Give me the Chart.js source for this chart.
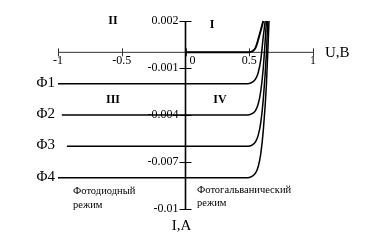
<!DOCTYPE html>
<html><head><meta charset="utf-8">
<script src="https://cdn.jsdelivr.net/npm/chart.js@4"></script>
<style>html,body{margin:0;padding:0;background:#fff}</style>
</head><body>
<canvas id="c" width="386" height="240"></canvas>
<script>
// Axis ticks
const xTicks = [-1, -0.5, 0, 0.5, 1];
const xTickLabels = ['-1', '-0.5', '0', '0.5', '1'];
const yTicks = [0.002, -0.001, -0.004, -0.007, -0.01];
const yTickLabels = ['0.002', '-0.001', '-0.004', '-0.007', '-0.01'];

// Series (U in volts, I in amperes)
const seriesNames = ['Φ0', 'Φ1', 'Φ2', 'Φ3', 'Φ4'];
const darkU = [0, 0.5, 0.53, 0.55, 0.57, 0.59, 0.61];
const darkI = [0, 0, 0.0001, 0.0003, 0.0008, 0.0014, 0.002];
const phi1U = [-1, 0.49, 0.525, 0.55, 0.57, 0.59, 0.61, 0.625];
const phi1I = [-0.002, -0.002, -0.0019, -0.0017, -0.0013, -0.0005, 0.001, 0.002];
const phi2U = [-0.97, 0.49, 0.525, 0.55, 0.57, 0.59, 0.61, 0.635];
const phi2I = [-0.004, -0.004, -0.0039, -0.0037, -0.0033, -0.0025, -0.001, 0.002];
const phi3U = [-0.93, 0.49, 0.525, 0.55, 0.57, 0.59, 0.61, 0.635, 0.645];
const phi3I = [-0.006, -0.006, -0.0059, -0.0057, -0.0053, -0.0045, -0.003, 0, 0.002];
const phi4U = [-1, 0.49, 0.525, 0.55, 0.57, 0.59, 0.61, 0.635, 0.655];
const phi4I = [-0.008, -0.008, -0.0079, -0.0077, -0.0073, -0.0065, -0.005, -0.002, 0.002];

const seriesU = [darkU, phi1U, phi2U, phi3U, phi4U];
const seriesI = [darkI, phi1I, phi2I, phi3I, phi4I];

const SERIF = '"Liberation Serif", "DejaVu Serif", serif';

const axesPlugin = {
  id: 'centerAxes',
  beforeDatasetsDraw(chart) {
    const ctx = chart.ctx, xs = chart.scales.x, ys = chart.scales.y;
    const x0 = xs.getPixelForValue(0), y0 = ys.getPixelForValue(0);
    ctx.save();
    ctx.strokeStyle = '#333';
    ctx.lineWidth = 1;
    ctx.beginPath();
    ctx.moveTo(xs.getPixelForValue(-1), y0);
    ctx.lineTo(xs.getPixelForValue(1), y0);
    ctx.stroke();
    xTicks.forEach(v => {
      const px = Math.round(xs.getPixelForValue(v)) + 0.5;
      ctx.beginPath();
      ctx.moveTo(px, y0 - 4);
      ctx.lineTo(px, y0 + 4);
      ctx.stroke();
    });
    ctx.strokeStyle = '#000';
    ctx.lineWidth = 1.6;
    ctx.beginPath();
    ctx.moveTo(x0, ys.getPixelForValue(0.002));
    ctx.lineTo(x0, ys.getPixelForValue(-0.01));
    ctx.stroke();
    ctx.lineWidth = 1;
    yTicks.forEach(v => {
      const py = Math.round(ys.getPixelForValue(v)) + 0.5;
      ctx.beginPath();
      ctx.moveTo(x0 - 6, py);
      ctx.lineTo(x0 + 6, py);
      ctx.stroke();
    });
    ctx.restore();
  },
  afterDraw(chart) {
    const ctx = chart.ctx, xs = chart.scales.x, ys = chart.scales.y;
    const x0 = xs.getPixelForValue(0), y0 = ys.getPixelForValue(0);
    ctx.save();
    ctx.fillStyle = '#000';
    ctx.font = '12px ' + SERIF;
    ctx.textBaseline = 'top';
    xTicks.forEach((v, i) => {
      const px = xs.getPixelForValue(v);
      if (v === 0) { ctx.textAlign = 'left'; ctx.fillText(xTickLabels[i], px + 4, y0 + 3); }
      else { ctx.textAlign = 'center'; ctx.fillText(xTickLabels[i], px, y0 + 3); }
    });
    ctx.textAlign = 'right';
    ctx.textBaseline = 'middle';
    yTicks.forEach((v, i) => {
      ctx.fillText(yTickLabels[i], x0 - 7, ys.getPixelForValue(v));
    });
    ctx.font = '15px ' + SERIF;
    ctx.textAlign = 'left';
    ctx.fillText('U,B', xs.getPixelForValue(1) + 12, y0 + 1);
    ctx.textAlign = 'center';
    ctx.fillText('I,A', x0 - 4, ys.getPixelForValue(-0.01) + 17);
    ctx.font = 'bold 12px ' + SERIF;
    ctx.fillText('II', 113, 21);
    ctx.fillText('I', 212, 25);
    ctx.fillText('III', 113, 100);
    ctx.fillText('IV', 220, 100);
    ctx.font = '15px ' + SERIF;
    ctx.textAlign = 'right';
    seriesNames.slice(1).forEach((n, k) => {
      const I = seriesI[k + 1][0];
      ctx.fillText(n, 55, ys.getPixelForValue(I) - 1);
    });
    ctx.font = '10.5px ' + SERIF;
    ctx.textAlign = 'left';
    ctx.fillText('Фотодиодный', 73, 191);
    ctx.fillText('режим', 73, 205);
    ctx.fillText('Фотогальванический', 197, 190);
    ctx.fillText('режим', 197, 203);
    ctx.restore();
  }
};

new Chart(document.getElementById('c'), {
  type: 'line',
  data: {
    datasets: seriesU.map((u, k) => ({
      label: seriesNames[k],
      data: u.map((x, j) => ({ x: x, y: seriesI[k][j] })),
      borderColor: '#000',
      borderWidth: k === 0 ? 2 : 1.5,
      pointRadius: 0,
      fill: false,
      cubicInterpolationMode: 'monotone',
      clip: 6
    }))
  },
  options: {
    responsive: false,
    animation: false,
    events: [],
    layout: { padding: { left: 58, right: 73, top: 21, bottom: 31 } },
    plugins: { legend: { display: false }, tooltip: { enabled: false } },
    scales: {
      x: { type: 'linear', min: -1, max: 1, display: false },
      y: { type: 'linear', min: -0.01, max: 0.002, display: false }
    }
  },
  plugins: [axesPlugin]
});
</script>
</body></html>
